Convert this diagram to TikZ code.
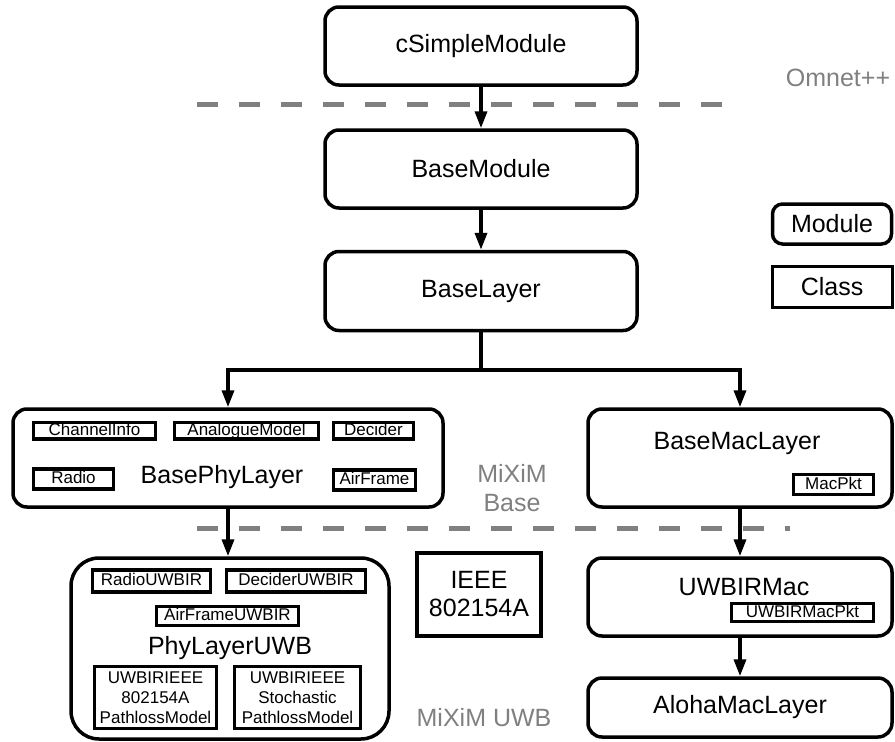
\documentclass[tikz,border=0pt]{standalone}
\usepackage{fontspec}
\setmainfont{Liberation Sans}
\usetikzlibrary{arrows.meta}

\newcommand{\modfont}{\fontsize{25}{28}\selectfont}
\newcommand{\clsfont}{\fontsize{17}{20}\selectfont}

\begin{document}
\begin{tikzpicture}[x=1pt, y=-1pt,
    module/.style = {draw, line width=3.5pt, rounded corners=14pt, font=\modfont, inner sep=0pt},
    cls/.style    = {draw, line width=3.5pt, font=\clsfont, inner xsep=1pt, inner ysep=1pt,
                     text height=12pt, text depth=2.5pt, align=center, minimum height=16},
    note/.style   = {font=\modfont, text=black!50, align=center, inner sep=0pt},
    arr/.style    = {-{Triangle[length=17pt, width=12pt]}, line width=3.5pt},
    sep/.style    = {draw=black!50, line width=5pt, dash pattern=on 21pt off 21pt},
]

\useasboundingbox (0,0) rectangle (895,742);

%% ---- Layer separators ----

\draw[sep] (197,104) -- (735,104);
\draw[sep] (197,528) -- (790,528);

\node[note] (omnet) at (838,78) {Omnet++};
\node[note, font=\fontsize{25}{29}\selectfont] (mixbase) at (512,488) {MiXiM\\Base};
\node[note] (mixuwb) at (484,718) {MiXiM UWB};

%% ---- Main column ----

\node[module, minimum width=312, minimum height=78] (csm)  at (481,46)  {cSimpleModule};
\node[module, minimum width=312, minimum height=78] (bmod) at (481,169) {BaseModule};
\node[module, minimum width=312, minimum height=79] (blay) at (481,291) {BaseLayer};

%% ---- Legend ----

\node[module, rounded corners=10pt, minimum width=119, minimum height=40] (legmod) at (832,224) {Module};
\node[draw, line width=3pt, font=\modfont, minimum width=120, minimum height=41] (legcls) at (832,287) {Class};

%% ---- Physical layer ----

\node[module, minimum width=430, minimum height=98] (phy) at (228,458) {};
\node[font=\modfont, inner sep=0pt] (phytxt) at (222,477) {BasePhyLayer};

\node[cls, minimum width=122] (chinfo)   at (94.5,430.5)  {ChannelInfo};
\node[cls, minimum width=144] (analogue) at (246.5,430.5) {AnalogueModel};
\node[cls, minimum width=80]  (decider)  at (373.5,430.5) {Decider};
\node[cls, minimum width=80, minimum height=20] (radio)    at (73.5,479)  {Radio};
\node[cls, minimum width=82, minimum height=20] (airframe) at (374.5,480) {AirFrame};

\node[module, rounded corners=28pt, minimum width=318, minimum height=181] (uwbphy) at (230,648.5) {PhyLayerUWB};

\node[cls, minimum width=118, minimum height=22] (radiouwb)   at (151.5,581) {RadioUWBIR};
\node[cls, minimum width=139, minimum height=22] (decideruwb) at (296,581)   {DeciderUWBIR};
\node[cls, minimum width=142, minimum height=19] (airuwb)     at (227.5,616) {AirFrameUWBIR};
\node[cls, minimum width=122, minimum height=62, text height=, text depth=] (plieee)
    at (155.5,697.5) {UWBIRIEEE\\802154A\\PathlossModel};
\node[cls, minimum width=126, minimum height=62, text height=, text depth=] (plstoch)
    at (297.5,697.5) {UWBIRIEEE\\Stochastic\\PathlossModel};

\node[draw, line width=3.5pt, font=\modfont, align=center, minimum width=124, minimum height=83] (ieee)
    at (479,594.5) {IEEE\\802154A};

%% ---- MAC layer ----

\node[module, minimum width=304, minimum height=98] (mac) at (740,458) {};
\node[font=\modfont, inner sep=0pt] (mactxt) at (737,443) {BaseMacLayer};
\node[cls, minimum width=80, minimum height=20] (macpkt) at (833.5,484.5) {MacPkt};

\node[module, minimum width=304, minimum height=78] (uwbmac) at (740,597) {};
\node[font=\modfont, inner sep=0pt] (uwbmactxt) at (744,587) {UWBIRMac};
\node[cls, minimum width=142, minimum height=18] (uwbpkt) at (802.5,612.5) {UWBIRMacPkt};

\node[module, minimum width=304, minimum height=59] (aloha) at (740,707.5) {AlohaMacLayer};

%% ---- Inheritance arrows ----

\coordinate (fork) at (481,370);

\draw[arr] (csm) -- (bmod);
\draw[arr] (bmod) -- (blay);
\draw[line width=3.5pt] (blay) -- (fork);
\draw[arr] (fork) -| (phy.north);
\draw[arr] (fork) -| (mac.north);
\draw[arr] (phy.south) -- (phy.south |- uwbphy.north);
\draw[arr] (mac) -- (uwbmac);
\draw[arr] (uwbmac) -- (aloha);

\end{tikzpicture}
\end{document}
